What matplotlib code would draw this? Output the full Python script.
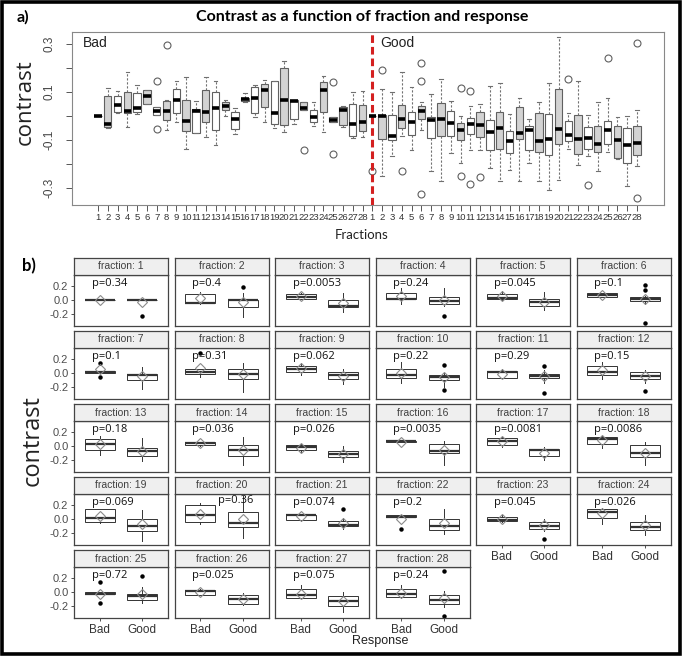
import numpy as np
import matplotlib.pyplot as plt
from matplotlib.patches import Rectangle

plt.rcParams['font.family'] = ['Liberation Sans', 'DejaVu Sans']

fractions = list(range(1, 29))

# box statistics (Bad = positions 1-28, Good = 29-56)
bad_lo = [0, -0.05, 0.012, -0.047, 0.008, 0.05, 0.004, -0.057, -0.027, -0.138,
          -0.072, -0.086, -0.121, -0.002, -0.077, 0.057, -0.004, -0.027, -0.052, -0.068,
          -0.032, 0.026, -0.043, -0.067, -0.027, -0.046, -0.09, -0.089]
bad_q1 = [0, -0.046, 0.017, 0.012, 0.017, 0.051, 0.004, -0.017, 0.012, -0.064,
          -0.072, -0.027, -0.057, 0.025, -0.054, 0.062, 0.012, 0.037, -0.034, -0.039,
          -0.013, 0.026, -0.024, 0.015, -0.027, -0.036, -0.082, -0.064]
bad_med = [0, -0.033, 0.046, 0.021, 0.033, 0.083, 0.021, 0.021, 0.067, -0.02,
           0.022, 0.015, 0.032, 0.043, -0.013, 0.071, 0.074, 0.11, 0.014, 0.067,
           0.064, 0.033, -0.004, 0.108, -0.018, 0.025, -0.035, -0.025]
bad_q3 = [0, 0.084, 0.084, 0.101, 0.096, 0.107, 0.036, 0.064, 0.112, 0.068,
          0.03, 0.107, 0.101, 0.057, 0.018, 0.076, 0.121, 0.135, 0.144, 0.199,
          0.065, 0.057, 0.026, 0.142, -0.003, 0.036, 0.049, 0.044]
bad_hi = [0, 0.117, 0.105, 0.182, 0.13, 0.11, 0.036, 0.066, 0.144, 0.161,
          0.061, 0.161, 0.144, 0.068, 0.035, 0.096, 0.13, 0.149, 0.147, 0.228,
          0.065, 0.057, 0.057, 0.168, -0.003, 0.04, 0.1, 0.103]
bad_out = [[], [], [], [], [], [], [0.147, -0.053], [0.297], [], [],
           [], [], [], [], [], [], [], [], [], [],
           [], [-0.142], [], [], [0.142, -0.16], [], [], []]

good_lo = [0, -0.249, -0.168, -0.082, -0.14, -0.057, -0.229, -0.272, -0.154, -0.196,
           -0.14, -0.14, -0.217, -0.272, -0.224, -0.272, -0.196, -0.27, -0.307, -0.268,
           -0.136, -0.206, -0.165, -0.231, -0.149, -0.179, -0.29, -0.21]
good_q1 = [0, -0.096, -0.102, -0.05, -0.079, -0.013, -0.092, -0.082, -0.085, -0.099,
           -0.075, -0.089, -0.14, -0.138, -0.154, -0.096, -0.14, -0.149, -0.164, -0.117,
           -0.103, -0.157, -0.136, -0.152, -0.117, -0.175, -0.196, -0.163]
good_med = [0, 0.0, -0.085, -0.013, -0.025, 0.021, -0.018, -0.013, -0.029, -0.06,
            -0.035, -0.039, -0.067, -0.05, -0.106, -0.071, -0.057, -0.103, -0.096, -0.053,
            -0.078, -0.096, -0.092, -0.115, -0.057, -0.099, -0.121, -0.113]
good_q3 = [0, 0.005, 0.004, 0.047, 0.015, 0.04, -0.004, 0.055, 0.022, -0.029,
           -0.009, 0.018, -0.018, 0.017, -0.064, 0.037, -0.043, 0.012, 0.01, 0.112,
           -0.02, 0.004, -0.046, -0.043, -0.022, -0.043, -0.052, -0.043]
good_hi = [0, 0.112, 0.099, 0.182, 0.121, 0.057, 0.092, 0.154, 0.061, 0.0,
           0.04, 0.05, 0.124, 0.137, 0.01, 0.075, -0.013, 0.057, 0.137, 0.329,
           0.012, 0.144, 0.005, 0.057, 0.074, -0.006, -0.002, 0.024]
good_out = [[-0.231], [0.19], [], [-0.229], [], [0.221, 0.144, -0.324], [], [], [], [0.117, -0.249],
            [0.103, -0.282], [-0.254], [], [], [], [], [], [], [], [],
            [0.155], [], [-0.289], [], [0.24], [], [], [0.304, -0.342]]

# group means (diamonds in panel b)
bad_mean = [0.0, 0.034, 0.057, 0.058, 0.068, 0.073, 0.058, 0.073, 0.071, 0.01,
            -0.01, 0.049, 0.039, 0.054, -0.019, 0.063, 0.078, 0.088, 0.049, 0.083,
            0.04, 0.01, 0.01, 0.093, -0.02, 0.01, -0.02, -0.01]
good_mean = [-0.024, -0.024, -0.037, 0.0, -0.024, 0.02, -0.039, -0.01, -0.039, -0.058,
             -0.039, -0.039, -0.068, -0.058, -0.114, -0.049, -0.093, -0.093, -0.073, 0.0,
             -0.054, -0.054, -0.088, -0.078, -0.03, -0.102, -0.127, -0.088]

pvals = ['0.34', '0.4', '0.0053', '0.24', '0.045', '0.1', '0.1', '0.31', '0.062', '0.22',
         '0.29', '0.15', '0.18', '0.036', '0.026', '0.0035', '0.0081', '0.0086', '0.069', '0.36',
         '0.074', '0.2', '0.045', '0.026', '0.72', '0.025', '0.075', '0.24']


def make_stats(lo, q1, med, q3, hi, out):
    return [dict(whislo=a, q1=b, med=c, q3=d, whishi=e, fliers=f)
            for a, b, c, d, e, f in zip(lo, q1, med, q3, hi, out)]


bad_stats = make_stats(bad_lo, bad_q1, bad_med, bad_q3, bad_hi, bad_out)
good_stats = make_stats(good_lo, good_q1, good_med, good_q3, good_hi, good_out)

W, H = 685, 657
fig = plt.figure(figsize=(W / 100, H / 100), dpi=100)


def px(x, y, w, h):
    return [x / W, 1 - (y + h) / H, w / W, h / H]


# ---------------- panel a ----------------
ax = fig.add_axes(px(72, 32, 592, 173))
n = len(fractions)
pos = np.arange(1, 2 * n + 1)
art = ax.bxp(bad_stats + good_stats, positions=pos, widths=0.75, patch_artist=True,
             boxprops=dict(edgecolor='#606060', linewidth=0.8),
             whiskerprops=dict(color='#707070', linestyle=(0, (2, 1.6)), linewidth=0.8),
             capprops=dict(color='#707070', linewidth=0.8),
             medianprops=dict(color='black', linewidth=2.6),
             flierprops=dict(marker='o', markerfacecolor='none', markeredgecolor='#606060',
                             markersize=5, markeredgewidth=0.8))
for i, b in enumerate(art['boxes']):
    b.set_facecolor('#d3d3d3' if (i + 1) % 2 == 0 else 'white')

ax.axvline(n + 1, color='#d42020', linewidth=2.2, dashes=(2.5, 1.3))
ax.set_xlim(-1.65, 58.76)
ax.set_ylim(-0.371, 0.35)
ax.set_xticks(pos)
ax.set_xticklabels([str(f) for f in fractions] * 2, fontsize=6.8, color='#333333')
yt = np.round(np.arange(-0.3, 0.31, 0.1), 1)
ax.set_yticks(yt)
ax.set_yticklabels([str(v) if i % 2 == 0 else '' for i, v in enumerate(yt)],
                   rotation=90, va='center', fontsize=8.5, color='#444444')
ax.tick_params(axis='x', length=4, width=0.7, color='#555555', pad=2)
ax.tick_params(axis='y', length=4, width=0.7, color='#555555', pad=8)
for s in ax.spines.values():
    s.set_color('#888888')
    s.set_linewidth(0.8)
ax.text(-0.5, 0.305, 'Bad', fontsize=10, ha='left', va='center', color='#222222')
ax.text(29.8, 0.305, 'Good', fontsize=10, ha='left', va='center', color='#222222')

fig.text(17 / W, 1 - 17 / H, 'a)', fontsize=11.5, weight='bold', va='center', family='Lato')
fig.text(362 / W, 1 - 17 / H, 'Contrast as a function of fraction and response',
         fontsize=11.5, weight='bold', ha='center', va='center', family='Lato')
fig.text(25 / W, 1 - 102 / H, 'contrast', fontsize=16, rotation=90, ha='center', va='center',
         family='Open Sans', color='#222222')
fig.text(362 / W, 1 - 235 / H, 'Fractions', fontsize=9.5, ha='center', va='center',
         family='Lato', color='#222222')

# ---------------- panel b ----------------
for i, f in enumerate(fractions):
    r, c = divmod(i, 6)
    left = 74 + c * 100.5
    top = 275 + r * 73
    fa = fig.add_axes(px(left, top, 94, 51))
    fa.bxp([bad_stats[i], good_stats[i]], positions=[1, 2], widths=0.7, patch_artist=True,
           showcaps=False,
           boxprops=dict(facecolor='white', edgecolor='#333333', linewidth=0.7),
           whiskerprops=dict(color='#333333', linewidth=0.7),
           medianprops=dict(color='#333333', linewidth=1.6),
           flierprops=dict(marker='o', markerfacecolor='black', markeredgecolor='black',
                           markersize=2.2))
    fa.plot([1, 2], [bad_mean[i], good_mean[i]], linestyle='none', marker='D',
            markerfacecolor='none', markeredgecolor='#8a8a8a', markersize=5.2,
            markeredgewidth=0.8, zorder=5)
    tx, ty = (0.46, 0.88) if f == 20 else (0.19, 0.83)
    fa.text(tx, ty, 'p=' + pvals[i], transform=fa.transAxes, ha='left', va='center',
            fontsize=8, family='Open Sans', color='#111111')
    fa.set_xlim(0.4, 2.6)
    fa.set_ylim(-0.372, 0.365)
    if c == 0:
        fa.set_yticks([-0.2, 0, 0.2])
        fa.set_yticklabels(['-0.2', '0.0', '0.2'], fontsize=8, color='#4d4d4d')
    else:
        fa.set_yticks([])
    if i + 6 >= len(fractions):
        fa.set_xticks([1, 2])
        fa.set_xticklabels(['Bad', 'Good'], fontsize=8.5, color='#333333')
    else:
        fa.set_xticks([])
    fa.tick_params(length=2.5, width=0.6, color='#333333', pad=1.5)
    for s in fa.spines.values():
        s.set_color('#444444')
        s.set_linewidth(0.9)

    st = fig.add_axes(px(left, top - 17, 94, 17))
    st.set_facecolor('#efefef')
    st.set_xticks([])
    st.set_yticks([])
    for s in st.spines.values():
        s.set_color('#444444')
        s.set_linewidth(0.9)
    st.text(0.5, 0.5, 'fraction: %d' % f, transform=st.transAxes, ha='center', va='center',
            fontsize=7.5, color='#404040')

fig.text(22 / W, 1 - 266 / H, 'b)', fontsize=12, weight='bold', va='center', family='Lato')
fig.text(33 / W, 1 - 441 / H, 'contrast', fontsize=17, rotation=90, ha='center', va='center',
         family='Open Sans', color='#222222')
fig.text(380 / W, 1 - 641 / H, 'Response', fontsize=9, ha='center', va='center',
         color='#222222')

# outer frame
fig.add_artist(Rectangle((1.5 / W, 3.5 / H), 678 / W, 652 / H, transform=fig.transFigure,
                         fill=False, edgecolor='black', linewidth=2.6))

fig.savefig('out.png', dpi=100)
